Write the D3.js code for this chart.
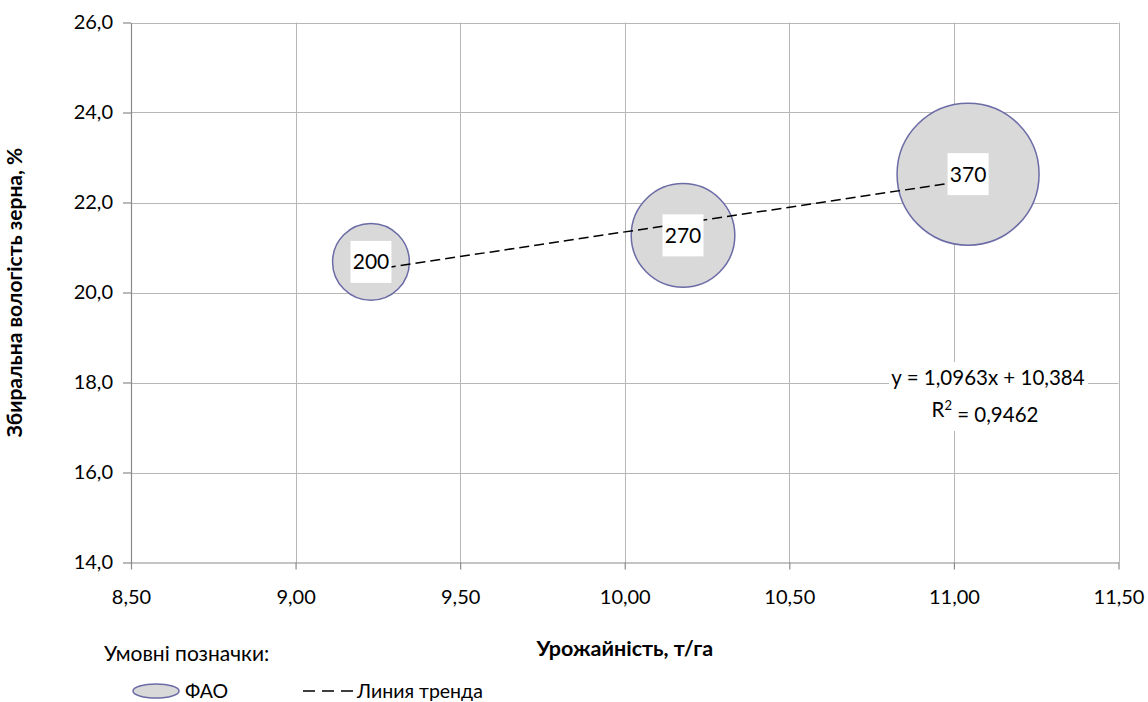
<!DOCTYPE html>
<html>
<head>
<meta charset="utf-8">
<script src="https://cdn.jsdelivr.net/npm/d3@7"></script>
<style>
  html, body { margin: 0; padding: 0; background: #fff; }
  svg { display: block; }
  text { font-family: Lato, "Open Sans", "Noto Sans", sans-serif; fill: #000; }
</style>
</head>
<body>
<svg id="chart" width="1148" height="702"></svg>
<script>
// Bubble data: yield (t/ha), harvest grain moisture (%), FAO maturity group
const yieldValues = [9.229, 10.177, 11.043];
const moistureValues = [20.68, 21.27, 22.63];
const faoGroups = [200, 270, 370];

// Axis ticks
const xTicks = [8.5, 9.0, 9.5, 10.0, 10.5, 11.0, 11.5];
const yTicks = [14, 16, 18, 20, 22, 24, 26];

// Linear trend reported on the chart
const trendSlope = 1.0963;
const trendIntercept = 10.384;
const trendR2 = 0.9462;

const xTitle = "Урожайність, т/га";
const yTitle = "Збиральна вологість зерна, %";
const legendTitle = "Умовні позначки:";
const legendBubble = "ФАО";
const legendTrend = "Линия тренда";

const svg = d3.select("#chart");
const plot = { left: 131, right: 1118.5, top: 22.5, bottom: 562.5 };

const x = d3.scaleLinear().domain([8.5, 11.5]).range([plot.left, plot.right]);
const y = d3.scaleLinear().domain([14, 26]).range([plot.bottom, plot.top]);
// bubble radius proportional to the FAO number (size = width)
const r = d3.scaleLinear().domain([0, 370]).range([0, 71]);

const fmtComma = (digits) => (v) => v.toFixed(digits).replace(".", ",");

const gridColor = "#b7b7b7";
const axisColor = "#8a8a8a";
const baseFont = 20;
const labelFont = 21;

// Gridlines
const grid = svg.append("g");
grid.selectAll("line.h").data(yTicks.filter(d => d !== 14)).join("line")
  .attr("x1", plot.left).attr("x2", plot.right)
  .attr("y1", d => Math.round(y(d)) + 0.5).attr("y2", d => Math.round(y(d)) + 0.5)
  .attr("stroke", gridColor).attr("stroke-width", 1);
grid.selectAll("line.v").data(xTicks.filter(d => d !== 8.5)).join("line")
  .attr("y1", plot.top).attr("y2", plot.bottom)
  .attr("x1", d => Math.round(x(d)) + 0.5).attr("x2", d => Math.round(x(d)) + 0.5)
  .attr("stroke", gridColor).attr("stroke-width", 1);

// Axes
const xAxis = d3.axisBottom(x).tickValues(xTicks).tickFormat(fmtComma(2)).tickSizeInner(7).tickSizeOuter(0).tickPadding(20);
const yAxis = d3.axisLeft(y).tickValues(yTicks).tickFormat(fmtComma(1)).tickSizeInner(8).tickSizeOuter(0).tickPadding(10);

const gx = svg.append("g").attr("transform", `translate(0,${plot.bottom})`).call(xAxis);
const gy = svg.append("g").attr("transform", `translate(${plot.left},0)`).call(yAxis);
[gx, gy].forEach(g => {
  g.selectAll("path, line").attr("stroke", axisColor).attr("stroke-width", 1.2);
  g.selectAll("text").attr("font-size", baseFont).attr("font-family", "Lato, 'Open Sans', sans-serif").attr("fill", "#000");
});

// Bubbles
const points = yieldValues.map((v, i) => ({ x: v, y: moistureValues[i], fao: faoGroups[i] }));
svg.append("g").selectAll("circle").data(points).join("circle")
  .attr("cx", d => x(d.x)).attr("cy", d => y(d.y)).attr("r", d => r(d.fao))
  .attr("fill", "#d9d9d9").attr("stroke", "#6b6ba6").attr("stroke-width", 1.5);

// Trend line across the data range
const xMin = d3.min(yieldValues), xMax = d3.max(yieldValues);
svg.append("line")
  .attr("x1", x(xMin)).attr("y1", y(trendSlope * xMin + trendIntercept))
  .attr("x2", x(xMax)).attr("y2", y(trendSlope * xMax + trendIntercept))
  .attr("stroke", "#000").attr("stroke-width", 1.5).attr("stroke-dasharray", "10,5");

// Bubble labels on white boxes
const lbl = svg.append("g").selectAll("g").data(points).join("g")
  .attr("transform", d => `translate(${x(d.x)},${y(d.y)})`);
lbl.append("rect").attr("x", -20.5).attr("y", -21).attr("width", 41).attr("height", 42).attr("fill", "#fff");
lbl.append("text").attr("text-anchor", "middle").attr("dy", "0.36em").attr("font-size", labelFont)
  .text(d => d.fao);

// Trend equation label
const eqX = 988, eqY = 378;
svg.append("rect").attr("x", 889).attr("y", 362).attr("width", 199).attr("height", 69).attr("fill", "#fff");
svg.append("text").attr("x", eqX).attr("y", eqY).attr("dy", "0.36em").attr("text-anchor", "middle").attr("font-size", 20.5)
  .text(`y = ${fmtComma(4)(trendSlope)}x + ${fmtComma(3)(trendIntercept)}`);
const r2 = svg.append("text").attr("x", eqX - 3).attr("y", eqY + 32).attr("dy", "0.36em").attr("text-anchor", "middle").attr("font-size", 20.5);
r2.append("tspan").text("R");
r2.append("tspan").attr("dy", "-0.55em").attr("font-size", 13).text("2");
r2.append("tspan").attr("dy", "0.55em").text(` = ${fmtComma(4)(trendR2)}`);

// Axis titles
svg.append("text").attr("x", (plot.left + plot.right) / 2).attr("y", 648).attr("dy", "0.36em")
  .attr("text-anchor", "middle").attr("font-size", 21.5).attr("font-weight", "bold").text(xTitle);
svg.append("text").attr("transform", `translate(14,${(plot.top + plot.bottom) / 2}) rotate(-90)`).attr("dy", "0.36em")
  .attr("text-anchor", "middle").attr("font-size", 21).attr("font-weight", "bold").text(yTitle);

// Legend
svg.append("text").attr("x", 104).attr("y", 653).attr("dy", "0.36em").attr("font-size", labelFont).text(legendTitle);
svg.append("ellipse").attr("cx", 156).attr("cy", 691).attr("rx", 23).attr("ry", 7)
  .attr("fill", "#d9d9d9").attr("stroke", "#6b6ba6").attr("stroke-width", 1.5);
svg.append("text").attr("x", 185).attr("y", 691).attr("dy", "0.36em").attr("font-size", 19.5).text(legendBubble);
svg.append("line").attr("x1", 303).attr("x2", 353).attr("y1", 691).attr("y2", 691)
  .attr("stroke", "#000").attr("stroke-width", 1.6).attr("stroke-dasharray", "12,7");
svg.append("text").attr("x", 357).attr("y", 691).attr("dy", "0.36em").attr("font-size", 19.5).text(legendTrend);
</script>
</body>
</html>
